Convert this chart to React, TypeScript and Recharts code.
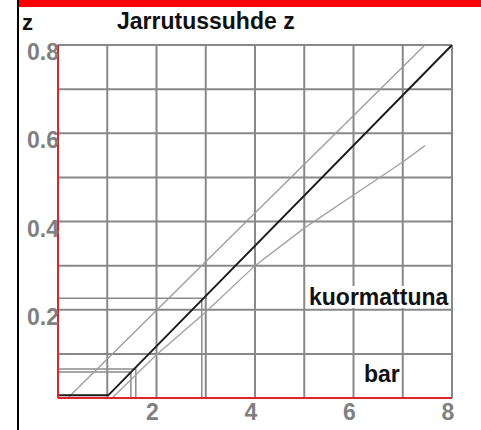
import React from "react";
import { LineChart, Line, XAxis, YAxis, CartesianGrid } from "recharts";

// Axis ticks (grid every 1 bar / 0.1 z, labels on every other)
const xTicks = [0, 1, 2, 3, 4, 5, 6, 7, 8];
const yTicks = [0, 0.1, 0.2, 0.3, 0.4, 0.5, 0.6, 0.7, 0.8];
const xLabelTicks = [2, 4, 6, 8];
const yLabelTicks = [0.2, 0.4, 0.6, 0.8];

// Main braking-ratio curve (black)
const blackPressure = [0, 1.02, 8];
const blackZ = [0.006, 0.006, 0.8];

// Upper limit line (gray)
const upperPressure = [0.2, 7.45];
const upperZ = [0, 0.8];

// Lower (loaded) line (gray)
const lowerPressure = [1.1, 2, 3, 4, 5, 6, 7, 7.45];
const lowerZ = [0, 0.098, 0.195, 0.3, 0.385, 0.46, 0.535, 0.572];

// Reading guide lines
const guideAPressure = [0, 1.58, 1.58];
const guideAZ = [0.066, 0.066, 0];
const guideBPressure = [0, 1.48, 1.48];
const guideBZ = [0.059, 0.059, 0];
const guideCPressure = [0, 3.03];
const guideCZ = [0.226, 0.226];
const guideDPressure = [2.92, 2.92];
const guideDZ = [0.226, 0];

const zip = (ps: number[], zs: number[]) => ps.map((p, i) => ({ p, z: zs[i] }));

const FONT = "'Liberation Sans', Arial, sans-serif";

const YTick = (props: any) => {
  const { x, y, payload } = props;
  if (!yLabelTicks.includes(payload.value)) return <g />;
  return (
    <text x={x + 1} y={y + 15} textAnchor="end" fontSize={23} fontWeight="bold" fill="#808080" fontFamily={FONT}>
      {Number(payload.value).toFixed(1)}
    </text>
  );
};

const XTick = (props: any) => {
  const { x, y, payload } = props;
  if (!xLabelTicks.includes(payload.value)) return <g />;
  return (
    <text x={x - 4} y={y + 22} textAnchor="middle" fontSize={23} fontWeight="bold" fill="#808080" fontFamily={FONT}>
      {String(payload.value)}
    </text>
  );
};

export default function App() {
  const guideStyle = { stroke: "#8c8c8c", strokeWidth: 1.5 };
  return (
    <div style={{ position: "absolute", left: 0, top: 0, width: 481, height: 430, background: "#fff" }}>
      <LineChart width={481} height={430} margin={{ top: 45, right: 29, bottom: 0, left: 0 }}>
        <CartesianGrid stroke="#888888" strokeWidth={2} />
        <XAxis
          type="number"
          dataKey="p"
          domain={[0, 8]}
          ticks={xTicks}
          interval={0}
          height={32}
          tickSize={0}
          tickMargin={0}
          tick={<XTick />}
          axisLine={{ stroke: "#e8202a", strokeWidth: 2 }}
          allowDataOverflow
        />
        <YAxis
          type="number"
          dataKey="z"
          domain={[0, 0.8]}
          ticks={yTicks}
          interval={0}
          width={58}
          tickSize={0}
          tickMargin={0}
          tick={<YTick />}
          axisLine={{ stroke: "#e8202a", strokeWidth: 2 }}
          allowDataOverflow
        />
        <Line data={zip(guideAPressure, guideAZ)} dataKey="z" stroke={guideStyle.stroke} strokeWidth={guideStyle.strokeWidth} dot={false} isAnimationActive={false} />
        <Line data={zip(guideBPressure, guideBZ)} dataKey="z" stroke={guideStyle.stroke} strokeWidth={guideStyle.strokeWidth} dot={false} isAnimationActive={false} />
        <Line data={zip(guideCPressure, guideCZ)} dataKey="z" stroke={guideStyle.stroke} strokeWidth={guideStyle.strokeWidth} dot={false} isAnimationActive={false} />
        <Line data={zip(guideDPressure, guideDZ)} dataKey="z" stroke={guideStyle.stroke} strokeWidth={guideStyle.strokeWidth} dot={false} isAnimationActive={false} />
        <Line data={zip(upperPressure, upperZ)} dataKey="z" stroke="#9a9a9a" strokeWidth={1.3} dot={false} isAnimationActive={false} />
        <Line data={zip(lowerPressure, lowerZ)} dataKey="z" stroke="#a0a0a0" strokeWidth={1.3} dot={false} isAnimationActive={false} />
        <Line data={zip(blackPressure, blackZ)} dataKey="z" stroke="#1c1c1c" strokeWidth={2} dot={false} isAnimationActive={false} />
      </LineChart>
      <svg width={481} height={430} style={{ position: "absolute", left: 0, top: 0, pointerEvents: "none" }}>
        <rect x={17} y={0} width={464} height={7} fill="#ff0000" />
        <rect x={17} y={0} width={2} height={430} fill="#000" />
        <text x={22} y={30} fontSize={22} fontWeight="bold" fill="#111" fontFamily={FONT}>z</text>
        <text x={117} y={29} fontSize={23} fontWeight="bold" fill="#111" fontFamily={FONT}>Jarrutussuhde z</text>
        <rect x={306} y={286} width={145} height={22} fill="#fff" />
        <text x={309} y={305} fontSize={23} fontWeight="bold" fill="#111" fontFamily={FONT}>kuormattuna</text>
        <text x={364} y={382} fontSize={23} fontWeight="bold" fill="#111" fontFamily={FONT}>bar</text>
      </svg>
    </div>
  );
}
